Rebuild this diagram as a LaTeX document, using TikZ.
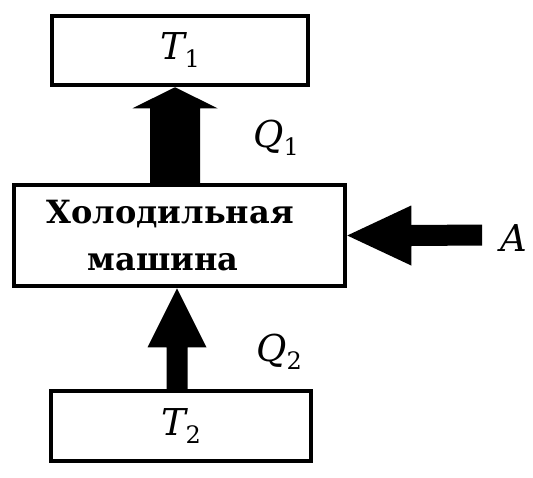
\documentclass[tikz,border=0pt]{standalone}
\usepackage{fontspec}
\setmainfont{DejaVu Serif}
\newfontfamily\boxfont{DejaVu Serif}
\usetikzlibrary{calc}
\newcommand\symlab[2]{{\fontsize{37}{37}\selectfont\itshape #1}\raisebox{-8pt}{\fontsize{24}{24}\selectfont #2}}
\begin{document}
\begin{tikzpicture}[x=1pt,y=-1pt,
  box/.style={draw=black, line width=4.5pt, inner sep=0pt, fill=white},
  arr/.style={fill=black},
  mtxt/.style={font=\boxfont\bfseries\fontsize{32}{32}\selectfont, inner sep=0pt, anchor=base}]
\useasboundingbox[fill=white] (0,0) rectangle (533,477);
\node[box, minimum width=256pt, minimum height=69pt] (t1) at (180,50.5) {\symlab{T}{1}};
\node[box, minimum width=331pt, minimum height=101pt] (mach) at (179.5,235.5) {};
\node[box, minimum width=260pt, minimum height=70pt] (t2) at (181,426) {\symlab{T}{2}};
\node[mtxt] (mt1) at (170,223) {Холодильная};
\node[mtxt] (mt2) at (163,270) {машина};
% top arrow
\coordinate (ax1) at (175,0);
\fill[arr] ($(mach.north -| ax1)+(-25,0)$) -- ($(t1.south -| ax1)+(-25,21)$) -- ($(t1.south -| ax1)+(-42.5,21)$) -- (t1.south -| ax1) -- ($(t1.south -| ax1)+(42.5,21)$) -- ($(t1.south -| ax1)+(25,21)$) -- ($(mach.north -| ax1)+(25,0)$) -- cycle;
% bottom arrow
\coordinate (ax2) at (177,0);
\fill[arr] ($(t2.north -| ax2)+(-10.5,0)$) -- ($(mach.south -| ax2)+(-10.5,59)$) -- ($(mach.south -| ax2)+(-29.5,59)$) -- (mach.south -| ax2) -- ($(mach.south -| ax2)+(29.5,59)$) -- ($(mach.south -| ax2)+(10.5,59)$) -- ($(t2.north -| ax2)+(10.5,0)$) -- cycle;
% work arrow
\coordinate (aend) at (482,235);
\fill[arr] ($(aend)+(0,-10.5)$) -- ($(mach.east)+(64,-10.5)$) -- ($(mach.east)+(64,-30)$) -- (mach.east) -- ($(mach.east)+(64,30)$) -- ($(mach.east)+(64,10.5)$) -- ($(aend)+(0,10.5)$) -- cycle;
% labels
\node (q1) at (276,138) {\symlab{Q}{1}};
\node (q2) at (279,352) {\symlab{Q}{2}};
\node (alab) at (514,238) {\fontsize{37}{37}\selectfont\itshape A};
\end{tikzpicture}
\end{document}
